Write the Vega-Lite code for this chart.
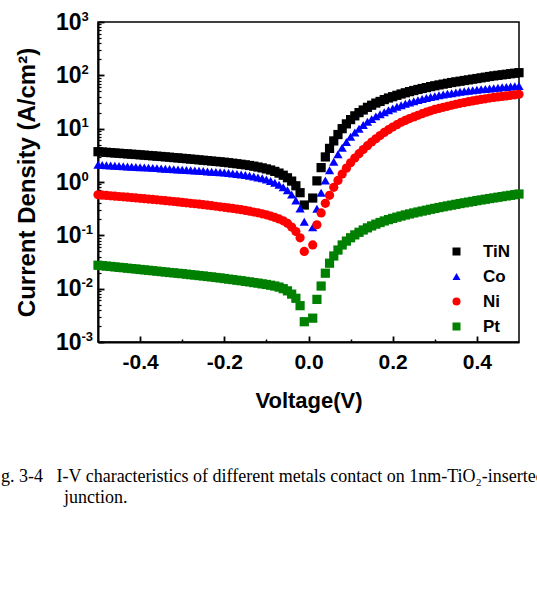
{
"$schema": "https://vega.github.io/schema/vega-lite/v6.json",
"width": 421, "height": 320,
"autosize": "none",
"padding": {"left": 98, "top": 22, "right": 18, "bottom": 249},
"background": "white",
"title": {"text": ["g. 3-4\u00a0\u00a0\u00a0I-V characteristics of different metals contact on 1nm-TiO\u2082-inserted", "\u200b\u00a0\u00a0\u00a0\u00a0\u00a0\u00a0\u00a0\u00a0\u00a0\u00a0\u00a0\u00a0\u00a0\u00a0junction."], "orient": "bottom", "anchor": "start", "frame": "group", "dx": -97, "offset": 57, "font": "Liberation Serif", "fontSize": 18, "fontWeight": "normal", "color": "#000", "lineHeight": 21},
"data": {"values": [
{"s":"TiN","V":-0.50,"J":3.70},{"s":"TiN","V":-0.49,"J":3.65},{"s":"TiN","V":-0.48,"J":3.60},{"s":"TiN","V":-0.47,"J":3.55},{"s":"TiN","V":-0.46,"J":3.50},{"s":"TiN","V":-0.45,"J":3.46},{"s":"TiN","V":-0.44,"J":3.41},{"s":"TiN","V":-0.43,"J":3.37},{"s":"TiN","V":-0.42,"J":3.32},{"s":"TiN","V":-0.41,"J":3.28},
{"s":"TiN","V":-0.40,"J":3.23},{"s":"TiN","V":-0.39,"J":3.19},{"s":"TiN","V":-0.38,"J":3.14},{"s":"TiN","V":-0.37,"J":3.10},{"s":"TiN","V":-0.36,"J":3.05},{"s":"TiN","V":-0.35,"J":3.01},{"s":"TiN","V":-0.34,"J":2.96},{"s":"TiN","V":-0.33,"J":2.92},{"s":"TiN","V":-0.32,"J":2.87},{"s":"TiN","V":-0.31,"J":2.83},
{"s":"TiN","V":-0.30,"J":2.78},{"s":"TiN","V":-0.29,"J":2.74},{"s":"TiN","V":-0.28,"J":2.69},{"s":"TiN","V":-0.27,"J":2.65},{"s":"TiN","V":-0.26,"J":2.60},{"s":"TiN","V":-0.25,"J":2.56},{"s":"TiN","V":-0.24,"J":2.52},{"s":"TiN","V":-0.23,"J":2.47},{"s":"TiN","V":-0.22,"J":2.43},{"s":"TiN","V":-0.21,"J":2.39},
{"s":"TiN","V":-0.20,"J":2.35},{"s":"TiN","V":-0.19,"J":2.30},{"s":"TiN","V":-0.18,"J":2.25},{"s":"TiN","V":-0.17,"J":2.20},{"s":"TiN","V":-0.16,"J":2.15},{"s":"TiN","V":-0.15,"J":2.10},{"s":"TiN","V":-0.14,"J":2.04},{"s":"TiN","V":-0.13,"J":1.98},{"s":"TiN","V":-0.12,"J":1.91},{"s":"TiN","V":-0.11,"J":1.84},
{"s":"TiN","V":-0.10,"J":1.76},{"s":"TiN","V":-0.09,"J":1.68},{"s":"TiN","V":-0.08,"J":1.58},{"s":"TiN","V":-0.07,"J":1.47},{"s":"TiN","V":-0.06,"J":1.34},{"s":"TiN","V":-0.05,"J":1.20},{"s":"TiN","V":-0.04,"J":1.04},{"s":"TiN","V":-0.03,"J":0.85},{"s":"TiN","V":-0.02,"J":0.63},{"s":"TiN","V":-0.01,"J":0.37},
{"s":"TiN","V":0.01,"J":0.50},{"s":"TiN","V":0.02,"J":1.05},{"s":"TiN","V":0.03,"J":1.86},{"s":"TiN","V":0.04,"J":2.95},{"s":"TiN","V":0.05,"J":4.27},{"s":"TiN","V":0.06,"J":5.89},{"s":"TiN","V":0.07,"J":7.76},{"s":"TiN","V":0.08,"J":10.0},{"s":"TiN","V":0.09,"J":12.3},{"s":"TiN","V":0.10,"J":14.8},
{"s":"TiN","V":0.11,"J":17.4},{"s":"TiN","V":0.12,"J":20.0},{"s":"TiN","V":0.13,"J":22.4},{"s":"TiN","V":0.14,"J":25.1},{"s":"TiN","V":0.15,"J":27.5},{"s":"TiN","V":0.16,"J":30.2},{"s":"TiN","V":0.17,"J":32.4},{"s":"TiN","V":0.18,"J":35.1},{"s":"TiN","V":0.19,"J":37.6},{"s":"TiN","V":0.20,"J":39.8},
{"s":"TiN","V":0.21,"J":42.2},{"s":"TiN","V":0.22,"J":44.7},{"s":"TiN","V":0.23,"J":47.1},{"s":"TiN","V":0.24,"J":49.5},{"s":"TiN","V":0.25,"J":51.9},{"s":"TiN","V":0.26,"J":54.3},{"s":"TiN","V":0.27,"J":56.6},{"s":"TiN","V":0.28,"J":58.9},{"s":"TiN","V":0.29,"J":61.4},{"s":"TiN","V":0.30,"J":63.8},
{"s":"TiN","V":0.31,"J":66.1},{"s":"TiN","V":0.32,"J":68.4},{"s":"TiN","V":0.33,"J":70.8},{"s":"TiN","V":0.34,"J":73.3},{"s":"TiN","V":0.35,"J":75.5},{"s":"TiN","V":0.36,"J":77.6},{"s":"TiN","V":0.37,"J":80.0},{"s":"TiN","V":0.38,"J":82.2},{"s":"TiN","V":0.39,"J":84.7},{"s":"TiN","V":0.40,"J":87.1},
{"s":"TiN","V":0.41,"J":89.7},{"s":"TiN","V":0.42,"J":92.3},{"s":"TiN","V":0.43,"J":95.1},{"s":"TiN","V":0.44,"J":97.7},{"s":"TiN","V":0.45,"J":100},{"s":"TiN","V":0.46,"J":102.3},{"s":"TiN","V":0.47,"J":104.7},{"s":"TiN","V":0.48,"J":107.2},{"s":"TiN","V":0.49,"J":109.6},{"s":"TiN","V":0.50,"J":112.2},
{"s":"Co","V":-0.50,"J":2.10},{"s":"Co","V":-0.49,"J":2.08},{"s":"Co","V":-0.48,"J":2.06},{"s":"Co","V":-0.47,"J":2.04},{"s":"Co","V":-0.46,"J":2.02},{"s":"Co","V":-0.45,"J":2.00},{"s":"Co","V":-0.44,"J":1.98},{"s":"Co","V":-0.43,"J":1.96},{"s":"Co","V":-0.42,"J":1.94},{"s":"Co","V":-0.41,"J":1.92},
{"s":"Co","V":-0.40,"J":1.90},{"s":"Co","V":-0.39,"J":1.88},{"s":"Co","V":-0.38,"J":1.86},{"s":"Co","V":-0.37,"J":1.84},{"s":"Co","V":-0.36,"J":1.82},{"s":"Co","V":-0.35,"J":1.80},{"s":"Co","V":-0.34,"J":1.78},{"s":"Co","V":-0.33,"J":1.76},{"s":"Co","V":-0.32,"J":1.74},{"s":"Co","V":-0.31,"J":1.72},
{"s":"Co","V":-0.30,"J":1.70},{"s":"Co","V":-0.29,"J":1.68},{"s":"Co","V":-0.28,"J":1.66},{"s":"Co","V":-0.27,"J":1.64},{"s":"Co","V":-0.26,"J":1.62},{"s":"Co","V":-0.25,"J":1.60},{"s":"Co","V":-0.24,"J":1.58},{"s":"Co","V":-0.23,"J":1.56},{"s":"Co","V":-0.22,"J":1.54},{"s":"Co","V":-0.21,"J":1.52},
{"s":"Co","V":-0.20,"J":1.50},{"s":"Co","V":-0.19,"J":1.47},{"s":"Co","V":-0.18,"J":1.44},{"s":"Co","V":-0.17,"J":1.41},{"s":"Co","V":-0.16,"J":1.38},{"s":"Co","V":-0.15,"J":1.35},{"s":"Co","V":-0.14,"J":1.31},{"s":"Co","V":-0.13,"J":1.27},{"s":"Co","V":-0.12,"J":1.22},{"s":"Co","V":-0.11,"J":1.17},
{"s":"Co","V":-0.10,"J":1.11},{"s":"Co","V":-0.09,"J":1.04},{"s":"Co","V":-0.08,"J":0.97},{"s":"Co","V":-0.07,"J":0.89},{"s":"Co","V":-0.06,"J":0.80},{"s":"Co","V":-0.05,"J":0.70},{"s":"Co","V":-0.04,"J":0.58},{"s":"Co","V":-0.03,"J":0.45},{"s":"Co","V":-0.02,"J":0.32},{"s":"Co","V":-0.01,"J":0.18},
{"s":"Co","V":0.01,"J":0.141},{"s":"Co","V":0.02,"J":0.316},{"s":"Co","V":0.03,"J":0.631},{"s":"Co","V":0.04,"J":1.07},{"s":"Co","V":0.05,"J":1.66},{"s":"Co","V":0.06,"J":2.40},{"s":"Co","V":0.07,"J":3.31},{"s":"Co","V":0.08,"J":4.37},{"s":"Co","V":0.09,"J":5.62},{"s":"Co","V":0.10,"J":7.08},
{"s":"Co","V":0.11,"J":8.51},{"s":"Co","V":0.12,"J":10.0},{"s":"Co","V":0.13,"J":11.7},{"s":"Co","V":0.14,"J":13.5},{"s":"Co","V":0.15,"J":15.1},{"s":"Co","V":0.16,"J":17.0},{"s":"Co","V":0.17,"J":18.6},{"s":"Co","V":0.18,"J":20.4},{"s":"Co","V":0.19,"J":22.1},{"s":"Co","V":0.20,"J":24.0},
{"s":"Co","V":0.21,"J":25.7},{"s":"Co","V":0.22,"J":27.5},{"s":"Co","V":0.23,"J":29.2},{"s":"Co","V":0.24,"J":30.9},{"s":"Co","V":0.25,"J":32.6},{"s":"Co","V":0.26,"J":34.3},{"s":"Co","V":0.27,"J":35.9},{"s":"Co","V":0.28,"J":37.6},{"s":"Co","V":0.29,"J":39.2},{"s":"Co","V":0.30,"J":40.7},
{"s":"Co","V":0.31,"J":42.2},{"s":"Co","V":0.32,"J":43.7},{"s":"Co","V":0.33,"J":45.0},{"s":"Co","V":0.34,"J":46.2},{"s":"Co","V":0.35,"J":47.6},{"s":"Co","V":0.36,"J":49.0},{"s":"Co","V":0.37,"J":50.1},{"s":"Co","V":0.38,"J":51.3},{"s":"Co","V":0.39,"J":52.5},{"s":"Co","V":0.40,"J":53.7},
{"s":"Co","V":0.41,"J":54.7},{"s":"Co","V":0.42,"J":55.6},{"s":"Co","V":0.43,"J":56.6},{"s":"Co","V":0.44,"J":57.5},{"s":"Co","V":0.45,"J":58.6},{"s":"Co","V":0.46,"J":59.6},{"s":"Co","V":0.47,"J":60.7},{"s":"Co","V":0.48,"J":61.7},{"s":"Co","V":0.49,"J":62.4},{"s":"Co","V":0.50,"J":63.1},
{"s":"Ni","V":-0.50,"J":0.575},{"s":"Ni","V":-0.49,"J":0.567},{"s":"Ni","V":-0.48,"J":0.559},{"s":"Ni","V":-0.47,"J":0.551},{"s":"Ni","V":-0.46,"J":0.543},{"s":"Ni","V":-0.45,"J":0.535},{"s":"Ni","V":-0.44,"J":0.527},{"s":"Ni","V":-0.43,"J":0.519},{"s":"Ni","V":-0.42,"J":0.511},{"s":"Ni","V":-0.41,"J":0.503},
{"s":"Ni","V":-0.40,"J":0.495},{"s":"Ni","V":-0.39,"J":0.487},{"s":"Ni","V":-0.38,"J":0.479},{"s":"Ni","V":-0.37,"J":0.471},{"s":"Ni","V":-0.36,"J":0.463},{"s":"Ni","V":-0.35,"J":0.455},{"s":"Ni","V":-0.34,"J":0.447},{"s":"Ni","V":-0.33,"J":0.439},{"s":"Ni","V":-0.32,"J":0.431},{"s":"Ni","V":-0.31,"J":0.423},
{"s":"Ni","V":-0.30,"J":0.415},{"s":"Ni","V":-0.29,"J":0.407},{"s":"Ni","V":-0.28,"J":0.399},{"s":"Ni","V":-0.27,"J":0.391},{"s":"Ni","V":-0.26,"J":0.383},{"s":"Ni","V":-0.25,"J":0.375},{"s":"Ni","V":-0.24,"J":0.367},{"s":"Ni","V":-0.23,"J":0.359},{"s":"Ni","V":-0.22,"J":0.351},{"s":"Ni","V":-0.21,"J":0.343},
{"s":"Ni","V":-0.20,"J":0.335},{"s":"Ni","V":-0.19,"J":0.327},{"s":"Ni","V":-0.18,"J":0.319},{"s":"Ni","V":-0.17,"J":0.311},{"s":"Ni","V":-0.16,"J":0.302},{"s":"Ni","V":-0.15,"J":0.293},{"s":"Ni","V":-0.14,"J":0.284},{"s":"Ni","V":-0.13,"J":0.274},{"s":"Ni","V":-0.12,"J":0.264},{"s":"Ni","V":-0.11,"J":0.253},
{"s":"Ni","V":-0.10,"J":0.242},{"s":"Ni","V":-0.09,"J":0.230},{"s":"Ni","V":-0.08,"J":0.217},{"s":"Ni","V":-0.07,"J":0.203},{"s":"Ni","V":-0.06,"J":0.187},{"s":"Ni","V":-0.05,"J":0.168},{"s":"Ni","V":-0.04,"J":0.143},{"s":"Ni","V":-0.03,"J":0.118},{"s":"Ni","V":-0.02,"J":0.090},{"s":"Ni","V":-0.01,"J":0.050},
{"s":"Ni","V":0.01,"J":0.066},{"s":"Ni","V":0.02,"J":0.158},{"s":"Ni","V":0.03,"J":0.263},{"s":"Ni","V":0.04,"J":0.398},{"s":"Ni","V":0.05,"J":0.562},{"s":"Ni","V":0.06,"J":0.794},{"s":"Ni","V":0.07,"J":1.07},{"s":"Ni","V":0.08,"J":1.41},{"s":"Ni","V":0.09,"J":1.82},{"s":"Ni","V":0.10,"J":2.29},
{"s":"Ni","V":0.11,"J":2.82},{"s":"Ni","V":0.12,"J":3.39},{"s":"Ni","V":0.13,"J":4.07},{"s":"Ni","V":0.14,"J":4.79},{"s":"Ni","V":0.15,"J":5.62},{"s":"Ni","V":0.16,"J":6.46},{"s":"Ni","V":0.17,"J":7.41},{"s":"Ni","V":0.18,"J":8.51},{"s":"Ni","V":0.19,"J":9.55},{"s":"Ni","V":0.20,"J":10.7},
{"s":"Ni","V":0.21,"J":11.9},{"s":"Ni","V":0.22,"J":13.2},{"s":"Ni","V":0.23,"J":14.3},{"s":"Ni","V":0.24,"J":15.5},{"s":"Ni","V":0.25,"J":16.6},{"s":"Ni","V":0.26,"J":17.8},{"s":"Ni","V":0.27,"J":19.1},{"s":"Ni","V":0.28,"J":20.4},{"s":"Ni","V":0.29,"J":21.6},{"s":"Ni","V":0.30,"J":22.9},
{"s":"Ni","V":0.31,"J":24.0},{"s":"Ni","V":0.32,"J":25.1},{"s":"Ni","V":0.33,"J":26.3},{"s":"Ni","V":0.34,"J":27.5},{"s":"Ni","V":0.35,"J":28.7},{"s":"Ni","V":0.36,"J":29.9},{"s":"Ni","V":0.37,"J":30.9},{"s":"Ni","V":0.38,"J":32.0},{"s":"Ni","V":0.39,"J":33.1},{"s":"Ni","V":0.40,"J":34.3},
{"s":"Ni","V":0.41,"J":35.3},{"s":"Ni","V":0.42,"J":36.3},{"s":"Ni","V":0.43,"J":37.4},{"s":"Ni","V":0.44,"J":38.5},{"s":"Ni","V":0.45,"J":39.4},{"s":"Ni","V":0.46,"J":40.3},{"s":"Ni","V":0.47,"J":41.2},{"s":"Ni","V":0.48,"J":42.2},{"s":"Ni","V":0.49,"J":43.2},{"s":"Ni","V":0.50,"J":44.2},
{"s":"Pt","V":-0.50,"J":0.0275},{"s":"Pt","V":-0.49,"J":0.0270},{"s":"Pt","V":-0.48,"J":0.0265},{"s":"Pt","V":-0.47,"J":0.0261},{"s":"Pt","V":-0.46,"J":0.0256},{"s":"Pt","V":-0.45,"J":0.0251},{"s":"Pt","V":-0.44,"J":0.0247},{"s":"Pt","V":-0.43,"J":0.0242},{"s":"Pt","V":-0.42,"J":0.0238},{"s":"Pt","V":-0.41,"J":0.0234},
{"s":"Pt","V":-0.40,"J":0.0229},{"s":"Pt","V":-0.39,"J":0.0225},{"s":"Pt","V":-0.38,"J":0.0221},{"s":"Pt","V":-0.37,"J":0.0217},{"s":"Pt","V":-0.36,"J":0.0213},{"s":"Pt","V":-0.35,"J":0.0209},{"s":"Pt","V":-0.34,"J":0.0205},{"s":"Pt","V":-0.33,"J":0.0201},{"s":"Pt","V":-0.32,"J":0.0198},{"s":"Pt","V":-0.31,"J":0.0194},
{"s":"Pt","V":-0.30,"J":0.0191},{"s":"Pt","V":-0.29,"J":0.0187},{"s":"Pt","V":-0.28,"J":0.0183},{"s":"Pt","V":-0.27,"J":0.0180},{"s":"Pt","V":-0.26,"J":0.0176},{"s":"Pt","V":-0.25,"J":0.0173},{"s":"Pt","V":-0.24,"J":0.0169},{"s":"Pt","V":-0.23,"J":0.0166},{"s":"Pt","V":-0.22,"J":0.0162},{"s":"Pt","V":-0.21,"J":0.0159},
{"s":"Pt","V":-0.20,"J":0.0155},{"s":"Pt","V":-0.19,"J":0.0151},{"s":"Pt","V":-0.18,"J":0.0148},{"s":"Pt","V":-0.17,"J":0.0144},{"s":"Pt","V":-0.16,"J":0.0141},{"s":"Pt","V":-0.15,"J":0.0137},{"s":"Pt","V":-0.14,"J":0.0134},{"s":"Pt","V":-0.13,"J":0.0130},{"s":"Pt","V":-0.12,"J":0.0127},{"s":"Pt","V":-0.11,"J":0.0123},
{"s":"Pt","V":-0.10,"J":0.0120},{"s":"Pt","V":-0.09,"J":0.0116},{"s":"Pt","V":-0.08,"J":0.0112},{"s":"Pt","V":-0.07,"J":0.0107},{"s":"Pt","V":-0.06,"J":0.0100},{"s":"Pt","V":-0.05,"J":0.0091},{"s":"Pt","V":-0.04,"J":0.0079},{"s":"Pt","V":-0.03,"J":0.0066},{"s":"Pt","V":-0.02,"J":0.0048},{"s":"Pt","V":-0.01,"J":0.0024},
{"s":"Pt","V":0.01,"J":0.0028},{"s":"Pt","V":0.02,"J":0.0063},{"s":"Pt","V":0.03,"J":0.0112},{"s":"Pt","V":0.04,"J":0.0195},{"s":"Pt","V":0.05,"J":0.030},{"s":"Pt","V":0.06,"J":0.041},{"s":"Pt","V":0.07,"J":0.053},{"s":"Pt","V":0.08,"J":0.066},{"s":"Pt","V":0.09,"J":0.078},{"s":"Pt","V":0.10,"J":0.090},
{"s":"Pt","V":0.11,"J":0.102},{"s":"Pt","V":0.12,"J":0.114},{"s":"Pt","V":0.13,"J":0.126},{"s":"Pt","V":0.14,"J":0.138},{"s":"Pt","V":0.15,"J":0.150},{"s":"Pt","V":0.16,"J":0.162},{"s":"Pt","V":0.17,"J":0.174},{"s":"Pt","V":0.18,"J":0.186},{"s":"Pt","V":0.19,"J":0.197},{"s":"Pt","V":0.20,"J":0.208},
{"s":"Pt","V":0.21,"J":0.219},{"s":"Pt","V":0.22,"J":0.230},{"s":"Pt","V":0.23,"J":0.241},{"s":"Pt","V":0.24,"J":0.252},{"s":"Pt","V":0.25,"J":0.263},{"s":"Pt","V":0.26,"J":0.274},{"s":"Pt","V":0.27,"J":0.285},{"s":"Pt","V":0.28,"J":0.296},{"s":"Pt","V":0.29,"J":0.308},{"s":"Pt","V":0.30,"J":0.320},
{"s":"Pt","V":0.31,"J":0.332},{"s":"Pt","V":0.32,"J":0.344},{"s":"Pt","V":0.33,"J":0.356},{"s":"Pt","V":0.34,"J":0.368},{"s":"Pt","V":0.35,"J":0.381},{"s":"Pt","V":0.36,"J":0.394},{"s":"Pt","V":0.37,"J":0.407},{"s":"Pt","V":0.38,"J":0.420},{"s":"Pt","V":0.39,"J":0.433},{"s":"Pt","V":0.40,"J":0.447},
{"s":"Pt","V":0.41,"J":0.461},{"s":"Pt","V":0.42,"J":0.475},{"s":"Pt","V":0.43,"J":0.489},{"s":"Pt","V":0.44,"J":0.503},{"s":"Pt","V":0.45,"J":0.518},{"s":"Pt","V":0.46,"J":0.533},{"s":"Pt","V":0.47,"J":0.548},{"s":"Pt","V":0.48,"J":0.563},{"s":"Pt","V":0.49,"J":0.579},{"s":"Pt","V":0.50,"J":0.595}
]},
"layer": [
  {
    "mark": {"type": "point", "opacity": 0},
    "encoding": {
      "x": {"field": "V", "type": "quantitative",
        "scale": {"domain": [-0.5, 0.5], "nice": false, "zero": false},
        "axis": {"orient": "bottom", "title": null, "values": [-0.4,-0.2,0,0.2,0.4], "labels": false, "domain": false, "ticks": true, "offset": -6, "tickSize": 6, "tickWidth": 1.8, "tickColor": "#000", "tickOpacity": 1}},
      "y": {"field": "J", "type": "quantitative",
        "scale": {"type": "log", "domain": [0.001, 1000], "nice": false},
        "axis": {"orient": "left", "title": null, "values": [0.001,0.01,0.1,1,10,100,1000], "labels": false, "domain": false, "ticks": true, "offset": -6, "tickSize": 6, "tickWidth": 1.8, "tickColor": "#000", "tickOpacity": 1}}
    }
  },
  {
    "mark": {"type": "point", "opacity": 0},
    "encoding": {
      "x": {"field": "V", "type": "quantitative",
        "axis": {"orient": "bottom", "title": null, "values": [-0.3,-0.1,0.1,0.3], "labels": false, "domain": false, "ticks": true, "offset": -3, "tickSize": 3, "tickWidth": 1.5, "tickColor": "#000", "tickOpacity": 1}},
      "y": {"field": "J", "type": "quantitative",
        "axis": {"orient": "left", "title": null, "domain": false, "ticks": true, "offset": -3, "tickSize": 3, "tickWidth": 1.2, "tickColor": "#000", "tickOpacity": 1,
          "values": [0.001,0.002,0.003,0.004,0.005,0.006,0.007,0.008,0.009,0.01,0.02,0.03,0.04,0.05,0.06,0.07,0.08,0.09,0.1,0.2,0.3,0.4,0.5,0.6,0.7,0.8,0.9,1,2,3,4,5,6,7,8,9,10,20,30,40,50,60,70,80,90,100,200,300,400,500,600,700,800,900,1000],
          "labelExpr": "abs(log(datum.value)/LN10 - round(log(datum.value)/LN10)) < 0.001 ? '' + round(log(datum.value)/LN10) : ''",
          "labelFontSize": 13, "labelAlign": "left", "labelPadding": 17, "labelOffset": -6, "labelOverlap": false, "labelFlush": false}}
    }
  },
  {
    "mark": {"type": "point", "filled": true, "size": 85, "opacity": 1, "strokeWidth": 0},
    "encoding": {
      "x": {"field": "V", "type": "quantitative",
        "axis": {"orient": "bottom", "title": "Voltage(V)", "values": [-0.4,-0.2,0,0.2,0.4],
          "labelExpr": "replace(format(datum.value, '.1f'), '\u2212', '-')",
          "ticks": false, "tickSize": 0, "labelPadding": 9, "titlePadding": 18, "labelFlush": false}},
      "y": {"field": "J", "type": "quantitative",
        "axis": {"orient": "left", "title": "Current Density (A/cm\u00b2)", "values": [0.001,0.01,0.1,1,10,100,1000],
          "labelExpr": "'10'", "labelFontSize": 23,
          "ticks": false, "tickSize": 0, "labelPadding": 17, "titlePadding": 16, "titleFontSize": 24, "labelOverlap": false, "labelFlush": false}},
      "color": {"field": "s", "type": "nominal",
        "scale": {"domain": ["TiN","Co","Ni","Pt"], "range": ["#000000","#0000ff","#ff0000","#008000"]},
        "legend": {"title": null, "orient": "none", "legendX": 350, "legendY": 221}},
      "shape": {"field": "s", "type": "nominal",
        "scale": {"domain": ["TiN","Co","Ni","Pt"], "range": ["square","triangle-up","circle","square"]},
        "legend": {"title": null, "orient": "none", "legendX": 350, "legendY": 221}}
    }
  }
],
"resolve": {"axis": {"x": "independent", "y": "independent"}},
"config": {
  "font": "Liberation Sans",
  "view": {"stroke": "#000", "strokeWidth": 1.5},
  "axis": {"grid": false, "domainColor": "#000", "domainWidth": 2,
    "labelFont": "Liberation Sans", "labelFontWeight": "bold", "labelFontSize": 21, "labelColor": "#000",
    "titleFont": "Liberation Sans", "titleFontWeight": "bold", "titleFontSize": 22, "titleColor": "#000"},
  "legend": {"labelFont": "Liberation Sans", "labelFontWeight": "bold", "labelFontSize": 17, "labelColor": "#000",
    "symbolSize": 64, "symbolStrokeWidth": 0, "labelOffset": 18, "rowPadding": 7, "padding": 0}
}
}
